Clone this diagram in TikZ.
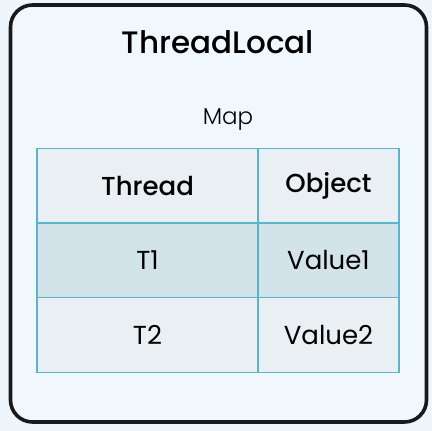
\documentclass[tikz,border=0pt]{standalone}
\usepackage{fontspec}
\setmainfont{Poppins}
\newfontfamily\popmed{Poppins Medium}
\newfontfamily\poplight{Poppins Light}
\usepackage{tikz}
\usetikzlibrary{calc}
\definecolor{bgblue}{RGB}{238,246,251}
\definecolor{boxblue}{RGB}{241,248,253}
\definecolor{gridblue}{RGB}{90,180,204}
\definecolor{headgray}{RGB}{233,239,242}
\definecolor{rowblue}{RGB}{211,227,234}
\tikzset{
  cell/.style = {rectangle, draw = gridblue, line width = 1.6pt, inner sep = 0pt, outer sep = 0pt, minimum height = 75pt, font = \fontsize{26}{30}\selectfont},
  leftcell/.style = {cell, minimum width = 221pt},
  rightcell/.style = {cell, minimum width = 141pt},
  headcell/.style = {font = \fontsize{26}{30}\selectfont\popmed}
}
\begin{document}
\begin{tikzpicture}[x=1pt, y=1pt]
            \useasboundingbox (0,0) rectangle (432,431);
            \fill[bgblue] (0,0) rectangle (432,431);
            \draw[line width = 3.6pt, rounded corners = 22pt, fill = boxblue, draw = black!90] (10.5,9) rectangle (426.5,426);

            \node (title) at (218,389) {\fontsize{31}{35}\selectfont\popmed ThreadLocal};
            \node (map) at (228,311) {\fontsize{23}{26}\selectfont\poplight Map};

            \node[leftcell, fill = headgray, headcell] (h1) at (147.5,245) {Thread};
            \node[rightcell, fill = headgray, headcell] (h2) at (328.5,245) {Object};
            \node[leftcell, fill = rowblue] (t1) at (147.5,170.5) {T1};
            \node[rightcell, fill = rowblue] (v1) at (328.5,170.5) {Value1};
            \node[leftcell, fill = headgray] (t2) at (147.5,96) {T2};
            \node[rightcell, fill = headgray] (v2) at (328.5,96) {Value2};
          \end{tikzpicture}
\end{document}
